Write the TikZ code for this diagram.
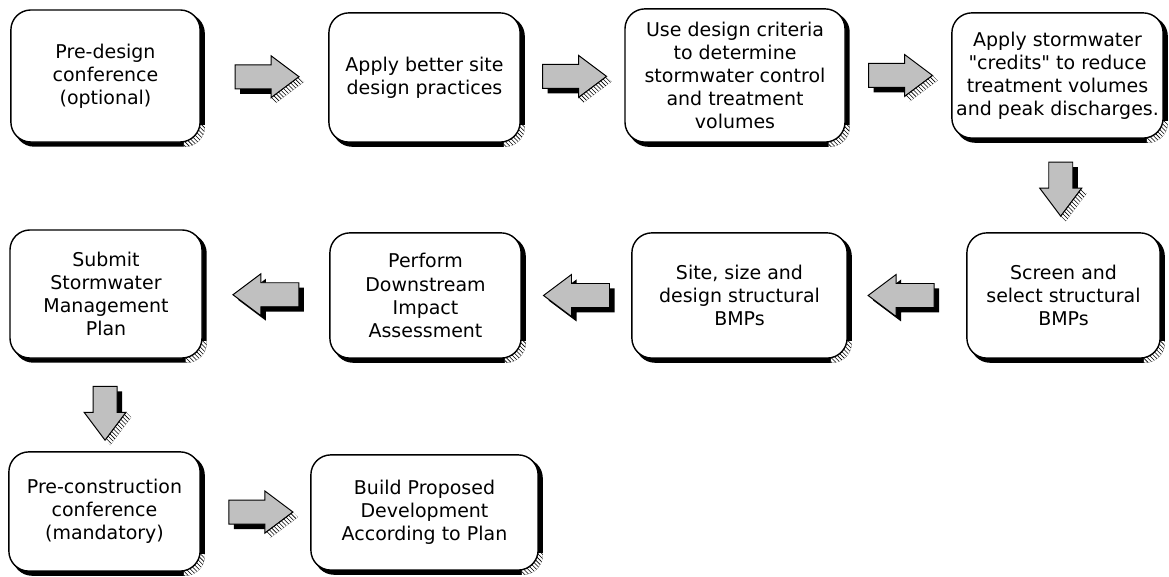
\documentclass[tikz,border=0pt]{standalone}
\usepackage{fontspec}
\setmainfont{DejaVu Sans}[Ligatures=TeXOff]
\usetikzlibrary{calc,patterns,backgrounds}
\definecolor{ArrowGray}{RGB}{192,192,192}
\tikzset{
  box/.style={draw,line width=1pt,rounded corners=0.5cm,fill=white,
    align=center,inner sep=1pt,font=\fontsize{13.5}{16.4}\selectfont},
  facet/.style={pattern=north west lines,preaction={fill=white}},
  arrowface/.style={draw,line width=0.7pt,fill=ArrowGray}
}
% block arrow: name, centre, angle, length
\newcommand{\blockarrow}[4]{%
  \begin{scope}[shift={(#2)},rotate=#3]
    \coordinate (#1-a) at (-#4/2,12);
    \coordinate (#1-b) at (#4/2-28,12);
    \coordinate (#1-c) at (#4/2-28,21);
    \coordinate (#1-t) at (#4/2,0);
    \coordinate (#1-d) at (#4/2-28,-21);
    \coordinate (#1-e) at (#4/2-28,-12);
    \coordinate (#1-f) at (-#4/2,-12);
  \end{scope}
  \fill ($(#1-a)+(5,-5)$) -- ($(#1-b)+(5,-5)$) -- ($(#1-c)+(5,-5)$)
    -- ($(#1-t)+(5,-5)$) -- ($(#1-d)+(5,-5)$) -- ($(#1-e)+(5,-5)$)
    -- ($(#1-f)+(5,-5)$) -- cycle;
  \draw[arrowface] (#1-a) -- (#1-b) -- (#1-c) -- (#1-t) -- (#1-d)
    -- (#1-e) -- (#1-f) -- cycle;
}
% hatched side of an arrow head
\newcommand{\facet}[2]{%
  \fill[facet] (#1) -- (#2) -- ($(#2)+(5,-5)$) -- ($(#1)+(5,-5)$) -- cycle;
  \draw[line width=0.7pt] (#1) -- (#2);
}

\begin{document}
\begin{tikzpicture}[x=0.025cm,y=0.025cm]
\useasboundingbox (0,0) rectangle (1169,577);

% Steps
\node[box,minimum width=4.73cm,minimum height=3.3cm] (predesign) at (105.5,501)
  {Pre-design\\conference\\(optional)};
\node[box,minimum width=4.78cm,minimum height=3.23cm] (bettersite) at (424.5,499.5)
  {Apply better site\\design practices};
\node[box,minimum width=5.5cm,minimum height=3.33cm] (criteria) at (735,501.5)
  {Use design criteria\\to determine\\stormwater control\\and treatment\\volumes};
\node[box,minimum width=5.28cm,minimum height=3.13cm] (credits) at (1057.5,501.5)
  {Apply stormwater\\"credits" to reduce\\treatment volumes\\and peak discharges.};

\node[box,minimum width=4.83cm,minimum height=3.13cm] (screen) at (1063.5,281.5)
  {Screen and\\select structural\\BMPs};
\node[box,minimum width=5.38cm,minimum height=3.13cm] (sitesize) at (739.5,281.5)
  {Site, size and\\design structural\\BMPs};
\node[box,minimum width=4.78cm,minimum height=3.13cm] (downstream) at (425.5,281.5)
  {Perform\\Downstream\\Impact\\Assessment};
\node[box,minimum width=4.8cm,minimum height=3.2cm] (submit) at (106,283)
  {Submit\\Stormwater\\Management\\Plan};

\node[box,minimum width=4.78cm,minimum height=2.98cm] (precon) at (104.5,65.5)
  {Pre-construction\\conference\\(mandatory)};
\node[box,minimum width=5.68cm,minimum height=2.88cm] (build) at (424.5,64.5)
  {Build Proposed\\Development\\According to Plan};

% Shadows with hatched corners
\begin{scope}[on background layer]
\foreach \n in {predesign,bettersite,criteria,credits,screen,sitesize,
    downstream,submit,precon,build}{
  \fill[rounded corners=0.5cm] ($(\n.south west)+(4,-4)$)
    rectangle ($(\n.north east)+(4,-4)$);
  \begin{scope}
    \clip ($(\n.south east)+(-17,-6)$) rectangle ($(\n.south east)+(6,17)$);
    \fill[facet,rounded corners=0.5cm] ($(\n.south west)+(4,-4)$)
      rectangle ($(\n.north east)+(4,-4)$);
  \end{scope}
}
\end{scope}

% Arrows
\blockarrow{ar1}{$(predesign.east)!0.52!(bettersite.west)$}{0}{64}
\facet{ar1-t}{ar1-d}
\blockarrow{ar2}{$(bettersite.east)!0.52!(criteria.west)$}{0}{64}
\facet{ar2-t}{ar2-d}
\blockarrow{ar3}{$(criteria.east)!0.52!(credits.west)$}{0}{64}
\facet{ar3-t}{ar3-d}
\blockarrow{ar4}{$(credits.south)!0.54!(screen.north)$}{-90}{54}
\facet{ar4-c}{ar4-t}
\blockarrow{ar5}{$(screen.west)!0.55!(sitesize.east)$}{180}{66}
\blockarrow{ar6}{$(sitesize.west)!0.5!(downstream.east)$}{180}{66}
\blockarrow{ar7}{$(downstream.west)!0.5!(submit.east)$}{180}{66}
\blockarrow{ar8}{$(submit.south)!0.59!(precon.north)$}{-90}{54}
\facet{ar8-c}{ar8-t}
\blockarrow{ar9}{$(precon.east)!0.55!(build.west)$}{0}{64}
\facet{ar9-t}{ar9-d}

\end{tikzpicture}
\end{document}
